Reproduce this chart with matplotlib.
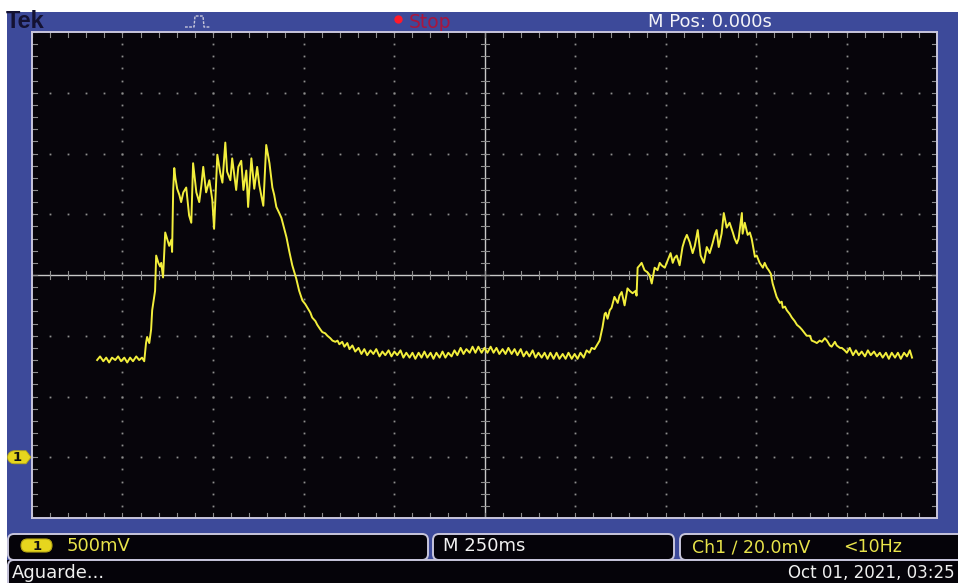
import matplotlib
matplotlib.use("Agg")
import matplotlib.pyplot as plt
from matplotlib.patches import Rectangle, FancyBboxPatch, Polygon
import numpy as np

# ---------------------------------------------------------------------------
# Channel 1 record: (time in ms relative to trigger, voltage in V)
# ---------------------------------------------------------------------------
baseline_before = [
    (-1070, 0.80), (-1062, 0.83), (-1053, 0.79), (-1045, 0.82), (-1037, 0.78),
    (-1029, 0.82), (-1020, 0.80), (-1012, 0.83), (-1004, 0.79), (-995, 0.82),
    (-987, 0.78), (-979, 0.82), (-971, 0.79), (-962, 0.83), (-954, 0.80),
    (-946, 0.82), (-940, 0.79),
]

first_pulse = [
    (-935, 0.94), (-932, 0.99), (-926, 0.94), (-921, 1.05), (-918, 1.21),
    (-912, 1.33), (-910, 1.37), (-907, 1.66), (-901, 1.60), (-896, 1.57),
    (-893, 1.60), (-888, 1.48), (-882, 1.85), (-877, 1.80), (-871, 1.74),
    (-865, 1.79), (-863, 1.69), (-860, 2.20), (-857, 2.38), (-854, 2.30),
    (-849, 2.21), (-843, 2.16), (-838, 2.10), (-832, 2.18), (-824, 2.22),
    (-816, 1.99), (-810, 1.93), (-805, 2.42), (-796, 2.18), (-788, 2.10),
    (-782, 2.24), (-777, 2.39), (-769, 2.18), (-760, 2.28), (-752, 2.12),
    (-747, 1.88), (-741, 2.30), (-738, 2.49), (-730, 2.34), (-724, 2.26),
    (-716, 2.59), (-711, 2.35), (-702, 2.28), (-697, 2.46), (-691, 2.32),
    (-686, 2.20), (-680, 2.39), (-672, 2.44), (-666, 2.20), (-658, 2.36),
    (-653, 2.06), (-644, 2.46), (-636, 2.21), (-628, 2.39), (-622, 2.24),
    (-617, 2.16), (-611, 2.07), (-603, 2.57), (-594, 2.42), (-586, 2.22),
    (-581, 2.16), (-575, 2.06), (-567, 2.01), (-561, 1.97), (-553, 1.88),
    (-547, 1.81), (-539, 1.69), (-531, 1.58), (-525, 1.52), (-520, 1.47),
    (-512, 1.37), (-503, 1.29), (-495, 1.26), (-489, 1.23), (-481, 1.19),
    (-476, 1.15), (-467, 1.12), (-462, 1.09), (-453, 1.05), (-448, 1.03),
    (-440, 1.02), (-434, 1.00), (-426, 0.98), (-420, 0.96), (-412, 0.95),
    (-406, 0.96), (-401, 0.93), (-393, 0.95), (-387, 0.91), (-379, 0.94),
    (-373, 0.89), (-365, 0.92), (-357, 0.87),
]

quiet_interval = [
    (-348, 0.90), (-340, 0.85), (-332, 0.89), (-324, 0.84), (-315, 0.88),
    (-307, 0.85), (-299, 0.89), (-290, 0.83), (-282, 0.87), (-274, 0.84),
    (-265, 0.88), (-257, 0.83), (-249, 0.87), (-241, 0.84), (-232, 0.88),
    (-224, 0.82), (-216, 0.86), (-207, 0.82), (-199, 0.86), (-191, 0.81),
    (-182, 0.86), (-174, 0.82), (-166, 0.87), (-158, 0.82), (-149, 0.86),
    (-141, 0.81), (-133, 0.86), (-124, 0.82), (-116, 0.87), (-108, 0.82),
    (-100, 0.86), (-91, 0.83), (-83, 0.88), (-75, 0.84), (-66, 0.90),
    (-58, 0.85), (-50, 0.89), (-41, 0.86), (-33, 0.91), (-25, 0.86),
    (-17, 0.91), (-8, 0.86), (0, 0.90), (8, 0.86), (17, 0.91),
    (25, 0.86), (33, 0.90), (41, 0.85), (50, 0.89), (58, 0.85),
    (66, 0.90), (75, 0.85), (83, 0.89), (91, 0.84), (100, 0.89),
    (108, 0.83), (116, 0.87), (124, 0.83), (133, 0.88), (141, 0.82),
    (149, 0.86), (158, 0.82), (166, 0.86), (174, 0.81), (182, 0.86),
    (191, 0.81), (199, 0.86), (207, 0.81), (216, 0.85), (224, 0.81),
    (232, 0.86), (241, 0.81), (249, 0.85), (257, 0.81), (265, 0.86),
    (274, 0.82), (282, 0.88), (290, 0.86),
]

second_pulse = [
    (296, 0.90), (304, 0.89), (310, 0.92), (318, 0.96), (326, 1.07),
    (332, 1.18), (335, 1.19), (340, 1.14), (346, 1.21), (351, 1.23),
    (359, 1.32), (368, 1.27), (373, 1.33), (379, 1.36), (387, 1.25),
    (395, 1.39), (401, 1.37), (409, 1.35), (418, 1.37), (420, 1.33),
    (423, 1.56), (429, 1.58), (434, 1.60), (442, 1.54), (451, 1.52),
    (456, 1.50), (462, 1.43), (470, 1.56), (478, 1.54), (484, 1.60),
    (489, 1.58), (498, 1.56), (506, 1.62), (514, 1.68), (520, 1.60),
    (525, 1.64), (531, 1.66), (539, 1.58), (547, 1.73), (553, 1.79),
    (559, 1.83), (567, 1.77), (575, 1.68), (581, 1.74), (589, 1.87),
    (597, 1.66), (606, 1.60), (614, 1.73), (622, 1.68), (630, 1.76),
    (636, 1.83), (641, 1.87), (647, 1.73), (655, 1.84), (661, 2.01),
    (669, 1.89), (677, 1.93), (686, 1.85), (691, 1.80), (697, 1.76),
    (702, 1.80), (711, 2.01), (713, 1.84), (719, 1.93), (727, 1.83),
    (733, 1.85), (738, 1.80), (747, 1.65), (752, 1.66), (760, 1.60),
    (769, 1.56), (774, 1.60), (780, 1.56), (785, 1.54), (791, 1.51),
    (796, 1.43), (802, 1.37), (807, 1.32), (816, 1.27), (821, 1.28),
    (824, 1.23), (830, 1.24), (835, 1.21), (843, 1.18), (849, 1.15),
    (857, 1.12), (863, 1.09), (871, 1.07), (877, 1.05), (885, 1.02),
    (890, 1.00), (899, 1.00), (904, 0.96), (912, 0.95), (918, 0.94),
    (926, 0.96), (932, 0.95), (940, 0.98), (946, 0.96), (954, 0.92),
    (959, 0.91), (968, 0.95), (973, 0.92), (982, 0.90), (987, 0.90),
    (995, 0.88), (1001, 0.86), (1009, 0.90),
]

baseline_after = [
    (1018, 0.84), (1026, 0.88), (1034, 0.84), (1042, 0.87), (1051, 0.83),
    (1059, 0.88), (1067, 0.84), (1076, 0.87), (1084, 0.83), (1092, 0.86),
    (1100, 0.82), (1109, 0.86), (1117, 0.81), (1125, 0.86), (1134, 0.82),
    (1142, 0.86), (1150, 0.81), (1159, 0.86), (1167, 0.83), (1175, 0.88),
    (1181, 0.82),
]

# Instrument settings shown on screen
ch1_scale_v = 0.5          # 500 mV/div
time_scale_ms = 250        # 250 ms/div
h_divs, v_divs = 10, 8
ground_offset_div = -3     # ground marker three divisions below centre

status_ch1 = "500mV"
status_time = "M 250ms"
status_trigger = "Ch1 \u2215 20.0mV"
status_freq = "<10Hz"
header_pos = "M Pos: 0.000s"
header_state = "Stop"
footer_msg = "Aguarde..."
footer_date = "Oct 01, 2021, 03:25"

# ---------------------------------------------------------------------------
W, H = 958, 583
BLUE = "#3d4a9a"
SCREEN = "#07050b"
DOT = "#8e8e8e"
CROSS = "#c8c8c8"
EDGE = "#c8c6dc"
TRACE = "#f2ee3c"
LABEL_Y = "#e8e34a"
FONT = ["DejaVu Sans"]

fig = plt.figure(figsize=(W / 100, H / 100), dpi=100)
fig.patch.set_facecolor("white")

# Pixel-space canvas for the instrument frame
bg = fig.add_axes([0, 0, 1, 1], zorder=0)
bg.set_xlim(0, W)
bg.set_ylim(H, 0)
bg.axis("off")

bg.add_patch(Rectangle((7, 12), W - 7, 550, fc=BLUE, ec="none"))
bg.add_patch(Rectangle((7, 560), W - 7, 30, fc=SCREEN, ec="none"))
# status boxes
for x0, x1 in [(8, 428), (433, 674), (680, 990)]:
    bg.add_patch(FancyBboxPatch((x0, 534), x1 - x0, 26,
                                boxstyle="round,pad=0,rounding_size=6",
                                fc="#050309", ec=EDGE, lw=1.4))
bg.add_patch(FancyBboxPatch((8, 560), 1000, 40,
                            boxstyle="round,pad=0,rounding_size=6",
                            fc="#050309", ec=EDGE, lw=1.4))

# header texts
bg.text(6, 22, "Tek", color="#141233", fontsize=17, fontweight="heavy",
        family=["Liberation Sans", "DejaVu Sans"], va="center", ha="left")
bg.plot([185, 194, 195, 203, 204, 210], [27, 27, 16, 16, 27, 27],
        color="#c8c8dc", lw=1.0, ls=(0, (2, 1)))
bg.plot([398], [19], marker="o", ms=6, color="#ff1a2a", mec="none")
bg.text(409, 22, header_state, color="#a8163e", fontsize=13.5,
        family=FONT, va="center", ha="left")
bg.text(648, 22, header_pos, color="#f4f4f8", fontsize=13,
        family=FONT, va="center", ha="left")

# status texts
bg.add_patch(FancyBboxPatch((21, 539), 31, 13,
                            boxstyle="round,pad=0,rounding_size=6.5",
                            fc="#e6d61e", ec="#b8a814", lw=0.8))
bg.text(37, 546, "1", color="#111111", fontsize=9.5, fontweight="bold",
        family=FONT, va="center", ha="center")
bg.text(67, 546, status_ch1, color=LABEL_Y, fontsize=13, family=FONT,
        va="center", ha="left")
bg.text(443, 546, status_time, color="#f2f2f2", fontsize=13, family=FONT,
        va="center", ha="left")
bg.text(692, 547, status_trigger, color=LABEL_Y, fontsize=12.5,
        family=FONT, va="center", ha="left")
bg.text(843, 547, status_freq, color=LABEL_Y, fontsize=12.5, family=FONT,
        va="center", ha="left")
bg.text(12, 573, footer_msg, color="#f0f0f0", fontsize=13, family=FONT,
        va="center", ha="left")
bg.text(955, 573, footer_date, color="#f0f0f0", fontsize=12, family=FONT,
        va="center", ha="right")

# ---------------------------------------------------------------------------
# Graticule and waveform
# ---------------------------------------------------------------------------
ax = fig.add_axes([32 / W, 1 - 518 / H, 905 / W, 486 / H], zorder=1)
ax.set_facecolor(SCREEN)
t_half = h_divs / 2 * time_scale_ms
v_low = (-v_divs / 2 - ground_offset_div) * ch1_scale_v
v_high = (v_divs / 2 - ground_offset_div) * ch1_scale_v
v_mid = (v_low + v_high) / 2
ax.set_xlim(-t_half, t_half)
ax.set_ylim(v_low, v_high)
ax.set_xticks([])
ax.set_yticks([])
for s in ax.spines.values():
    s.set_color(EDGE)
    s.set_linewidth(1.4)

major_x = np.linspace(-t_half, t_half, h_divs + 1)
major_y = np.linspace(v_low, v_high, v_divs + 1)
minor_x = np.linspace(-t_half, t_half, h_divs * 5 + 1)
minor_y = np.linspace(v_low, v_high, v_divs * 5 + 1)

px_x = (2 * t_half) / 905.0
px_y = (v_high - v_low) / 486.0

for xm in major_x[1:-1]:
    if abs(xm) < 1e-9:
        continue
    ax.plot(np.full_like(minor_y, xm), minor_y, ls="none", marker="s",
            ms=1.3, mew=0, color=DOT)
for ym in major_y[1:-1]:
    if abs(ym - v_mid) < 1e-9:
        continue
    ax.plot(minor_x, np.full_like(minor_x, ym), ls="none", marker="s",
            ms=1.3, mew=0, color=DOT)

ax.axvline(0, color=CROSS, lw=1.0)
ax.axhline(v_mid, color=CROSS, lw=1.0)
for xm in minor_x:
    ax.plot([xm, xm], [v_mid - 4 * px_y, v_mid + 4 * px_y], color=DOT, lw=0.8)
    ax.plot([xm, xm], [v_high, v_high - 5 * px_y], color=DOT, lw=0.8)
    ax.plot([xm, xm], [v_low, v_low + 5 * px_y], color=DOT, lw=0.8)
for ym in minor_y:
    ax.plot([-4 * px_x, 4 * px_x], [ym, ym], color=DOT, lw=0.8)
    ax.plot([-t_half, -t_half + 5 * px_x], [ym, ym], color=DOT, lw=0.8)
    ax.plot([t_half, t_half - 5 * px_x], [ym, ym], color=DOT, lw=0.8)

record = baseline_before + first_pulse + quiet_interval + second_pulse + baseline_after
t_ms = np.array([p[0] for p in record], dtype=float)
v_ch1 = np.array([p[1] for p in record], dtype=float)
ax.plot(t_ms, v_ch1, color=TRACE, lw=1.4, zorder=5)

# Ground reference marker for channel 1 at 0 V
gy = H - ax.transData.transform((0, 0.0))[1]
badge = [(14, gy - 6.5), (26, gy - 6.5), (31, gy), (26, gy + 6.5), (14, gy + 6.5)]
arc = [(14 - 6.5 * np.sin(a), gy + 6.5 * np.cos(a)) for a in np.linspace(0, np.pi, 9)]
bg.add_patch(Polygon(badge + arc, closed=True, fc="#e6d61e", ec="#b8a814", lw=0.6))
bg.text(17, gy, "1", color="#111111", fontsize=9.5, fontweight="bold",
        family=FONT, va="center", ha="center")

fig.savefig("out.png", dpi=100, facecolor=fig.get_facecolor())
